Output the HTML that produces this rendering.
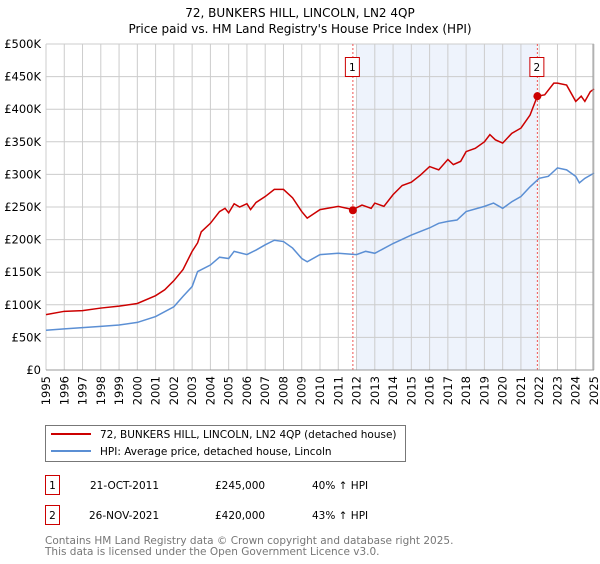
<!DOCTYPE html>
<html><head><meta charset="utf-8"><style>
body{margin:0;background:#fff;font-family:"DejaVu Sans","Liberation Sans",sans-serif;}
svg text{font-family:"DejaVu Sans","Liberation Sans",sans-serif;}
</style></head><body>
<svg id="chart" width="600" height="560" viewBox="0 0 600 560" xmlns="http://www.w3.org/2000/svg">
<text x="300" y="17" text-anchor="middle" font-size="12" fill="#000">72, BUNKERS HILL, LINCOLN, LN2 4QP</text>
<text x="300" y="33" text-anchor="middle" font-size="12" fill="#000">Price paid vs. HM Land Registry's House Price Index (HPI)</text>
<g id="grid"></g><g id="marks"></g><g id="axes"></g>
<g>
<rect x="45.5" y="425.5" width="360" height="36" fill="#fff" stroke="#777"/>
<line x1="51" y1="434" x2="91" y2="434" stroke="#cc0000" stroke-width="2"/>
<text x="100" y="438" font-size="10.5">72, BUNKERS HILL, LINCOLN, LN2 4QP (detached house)</text>
<line x1="51" y1="451" x2="91" y2="451" stroke="#5b8fd4" stroke-width="2"/>
<text x="100" y="455" font-size="10.5">HPI: Average price, detached house, Lincoln</text>
</g>
<g font-size="10.5">
<rect x="45.5" y="475.5" width="14" height="19" fill="#fff" stroke="#cc0000"/>
<text x="52.5" y="489" text-anchor="middle">1</text>
<text x="90" y="489">21-OCT-2011</text><text x="215" y="489">£245,000</text><text x="312" y="489">40% ↑ HPI</text>
<rect x="45.5" y="505.5" width="14" height="19" fill="#fff" stroke="#cc0000"/>
<text x="52.5" y="519" text-anchor="middle">2</text>
<text x="89" y="519">26-NOV-2021</text><text x="215" y="519">£420,000</text><text x="312" y="519">43% ↑ HPI</text>
</g>
<text x="45" y="544" font-size="10.5" fill="#777">Contains HM Land Registry data © Crown copyright and database right 2025.</text>
<text x="45" y="555" font-size="10.5" fill="#777">This data is licensed under the Open Government Licence v3.0.</text>
</svg>
<script>
const hpiYears=[1995,1996,1997,1998,1999,2000,2001,2002,2002.5,2003,2003.3,2004,2004.5,2005,2005.3,2006,2006.5,2007,2007.5,2008,2008.5,2009,2009.3,2010,2011,2012,2012.5,2013,2014,2015,2016,2016.5,2017,2017.5,2018,2019,2019.5,2020,2020.5,2021,2021.5,2022,2022.5,2023,2023.5,2024,2024.2,2024.5,2025];
const hpiValues=[61,63,65,67,69,73,82,97,113,128,151,161,173,171,182,177,184,192,199,197,187,171,166,177,179,177,182,179,194,207,218,225,228,230,243,251,256,248,258,266,281,294,297,310,307,297,287,294,302];
const priceYears=[1995,1996,1997,1998,1999,2000,2001,2001.5,2002,2002.5,2003,2003.3,2003.5,2004,2004.5,2004.8,2005,2005.3,2005.6,2006,2006.2,2006.5,2007,2007.5,2008,2008.5,2009,2009.3,2010,2011,2011.8,2012.3,2012.8,2013,2013.5,2014,2014.5,2015,2015.5,2016,2016.5,2017,2017.3,2017.7,2018,2018.5,2019,2019.3,2019.6,2020,2020.5,2021,2021.5,2021.9,2022.3,2022.8,2023,2023.5,2024,2024.3,2024.5,2024.8,2025];
const priceValues=[85,90,91,95,98,102,114,123,137,154,182,195,212,225,243,248,241,255,250,255,246,257,266,277,277,264,243,233,246,251,246,253,248,256,251,269,283,288,299,312,307,323,315,320,335,340,350,361,353,348,363,371,391,420,422,440,440,437,412,420,412,427,431];
const saleYears=[2011.8,2021.9];
const saleValues=[245,420];
const saleLabels=["1","2"];
const yTicks=[0,50,100,150,200,250,300,350,400,450,500];
const yTickLabels=["£0","£50K","£100K","£150K","£200K","£250K","£300K","£350K","£400K","£450K","£500K"];
const xTicks=[1995,1996,1997,1998,1999,2000,2001,2002,2003,2004,2005,2006,2007,2008,2009,2010,2011,2012,2013,2014,2015,2016,2017,2018,2019,2020,2021,2022,2023,2024,2025];

const X0=46,X1=594,Y0=370,Y1=44;
const xs=y=>X0+(y-1995)/30*(X1-X0);
const ys=v=>Y0-v/500*(Y0-Y1);
const NS="http://www.w3.org/2000/svg";
function mk(tag,attrs,parent){const e=document.createElementNS(NS,tag);for(const k in attrs)e.setAttribute(k,attrs[k]);document.getElementById(parent).appendChild(e);return e;}
const sh=mk('rect',{x:xs(2012),y:Y1,width:xs(saleYears[1])-xs(2012),height:Y0-Y1,fill:'#eef3fc'},'grid');


xTicks.forEach(t=>{
 const l=mk('line',{x1:xs(t),x2:xs(t),y1:Y1,y2:Y0,stroke:'#cccccc'},'grid');
 
 
 const tx=mk('text',{x:0,y:0,'font-size':'11.5','text-anchor':'end',transform:`translate(${xs(t)+4},376) rotate(-90)`},'axes');
 tx.textContent=t;
 
 
});
yTicks.forEach((t,i)=>{
 const l=mk('line',{x1:X0,x2:X1,y1:ys(t),y2:ys(t),stroke:'#cccccc'},'grid');
 
 
 const tx=mk('text',{x:41,y:ys(t)+4,'font-size':'11.5','text-anchor':'end'},'axes');
 tx.textContent=yTickLabels[i];
 
 
});
saleYears.forEach((s,i)=>{
 const l=mk('line',{x1:xs(s),x2:xs(s),y1:Y1,y2:Y0,stroke:'#ee5555','stroke-dasharray':'2,2'},'marks');
 
 
 const r=mk('rect',{x:xs(s)-7.5,y:57.5,width:14,height:19,fill:'#fff',stroke:'#cc0000'},'marks');
 
 
 const t=mk('text',{x:xs(s)-0.5,y:71,'font-size':'10.5','text-anchor':'middle'},'marks');
 t.textContent=saleLabels[i];
 
 
});
const hp=mk('polyline',{points:hpiYears.map((y,i)=>xs(y)+','+ys(hpiValues[i])).join(' '),fill:'none',stroke:'#5b8fd4','stroke-width':1.5},'marks');


const pp=mk('polyline',{points:priceYears.map((y,i)=>xs(y)+','+ys(priceValues[i])).join(' '),fill:'none',stroke:'#cc0000','stroke-width':1.5},'marks');


saleYears.forEach((s,i)=>{
 const c=mk('circle',{cx:xs(s),cy:ys(saleValues[i]),r:4,fill:'#cc0000'},'marks');
 
 
});
const ax=mk('line',{x1:X0,x2:X1,y1:Y0,y2:Y0,stroke:'#999'},'axes');


const rb=mk('line',{x1:X1-1,x2:X1-1,y1:Y1,y2:Y0,stroke:'#999'},'axes');


</script>
</body></html>
